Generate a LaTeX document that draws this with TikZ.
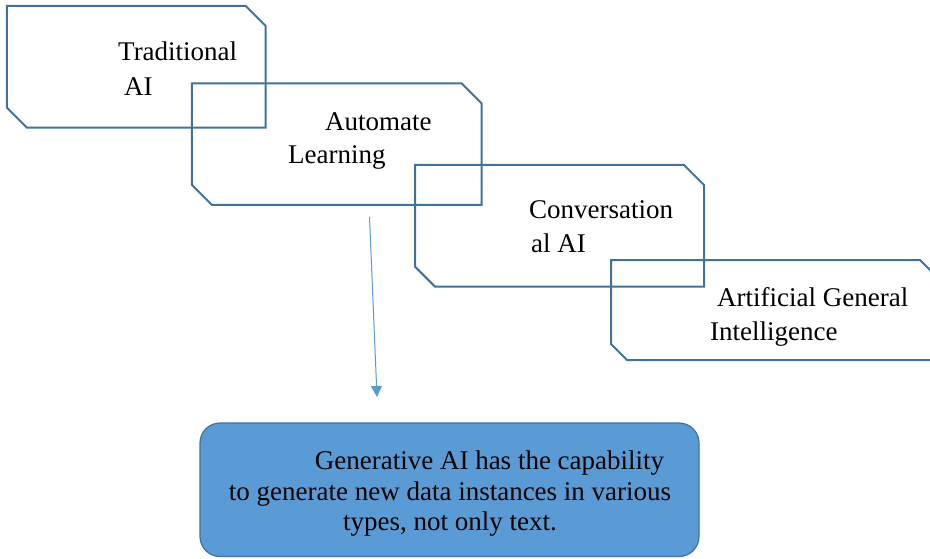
\documentclass[tikz,border=0pt]{standalone}
\usepackage{fontspec}
\setmainfont{Liberation Serif}
\usetikzlibrary{arrows.meta}
\definecolor{boxline}{HTML}{41719C}
\definecolor{gfill}{HTML}{5B9BD5}
\definecolor{arrowc}{HTML}{5B9BD5}
\tikzset{
  rbox/.style={rectangle, draw=none, inner sep=0pt, outer sep=0pt},
  edge/.style={draw=boxline, line width=2pt, line join=miter},
  lbl/.style={anchor=base west, inner sep=0pt, font=\fontsize{27}{34}\selectfont},
  glbl/.style={anchor=base, inner sep=0pt, font=\fontsize{27}{31}\selectfont},
  gbox/.style={rectangle, rounded corners=20pt, draw=boxline, line width=1.2pt, fill=gfill, inner sep=0pt},
  arr/.style={draw=arrowc, line width=1pt, -{Triangle[width=11pt,length=11pt]}}
}
\newcommand{\chamfbox}[2]{%
  \draw[edge] ([xshift=-#2]#1.north east) -- ([yshift=-#2]#1.north east) -- (#1.south east)
    -- ([xshift=#2]#1.south west) -- ([yshift=#2]#1.south west) -- (#1.north west) -- cycle;}
\begin{document}
\begin{tikzpicture}[x=1pt,y=-1pt]
\useasboundingbox (0,0) rectangle (930,558);
\clip (0,0) rectangle (930,558);
% boxes
\node[rbox, minimum width=258.7pt, minimum height=121.7pt] (b1) at (136.3,66.8) {};
\node[rbox, minimum width=289.7pt, minimum height=121.5pt] (b2) at (336.8,144.2) {};
\node[rbox, minimum width=289pt, minimum height=121.7pt] (b3) at (559.5,225.8) {};
\node[rbox, minimum width=325pt, minimum height=100pt] (b4) at (773.5,310) {};
\chamfbox{b1}{20pt}
\chamfbox{b2}{20pt}
\chamfbox{b3}{20pt}
\chamfbox{b4}{16pt}
% labels
\node[lbl] (t1a) at (118,60) {Traditional};
\node[lbl] (t1b) at (124,95) {AI};
\node[lbl] (t2a) at (325,130) {Automate};
\node[lbl] (t2b) at (288,163) {Learning};
\node[lbl] (t3a) at (529,218) {Conversation};
\node[lbl] (t3b) at (531,252) {al AI};
\node[lbl] (t4a) at (717,306) {Artificial General};
\node[lbl] (t4b) at (710,340) {Intelligence};
% generative box
\node[gbox, minimum width=499pt, minimum height=133.5pt] (g) at (449.5,489.75) {};
\node[glbl] (g1) at (489.5,469) {Generative AI has the capability};
\node[glbl] (g2) at (450,500) {to generate new data instances in various};
\node[glbl] (g3) at (450,530) {types, not only text.};
% arrow
\coordinate (as) at (369.5,217);
\coordinate (ae) at (377,397);
\draw[arr] (as) -- (ae);
\end{tikzpicture}
\end{document}
